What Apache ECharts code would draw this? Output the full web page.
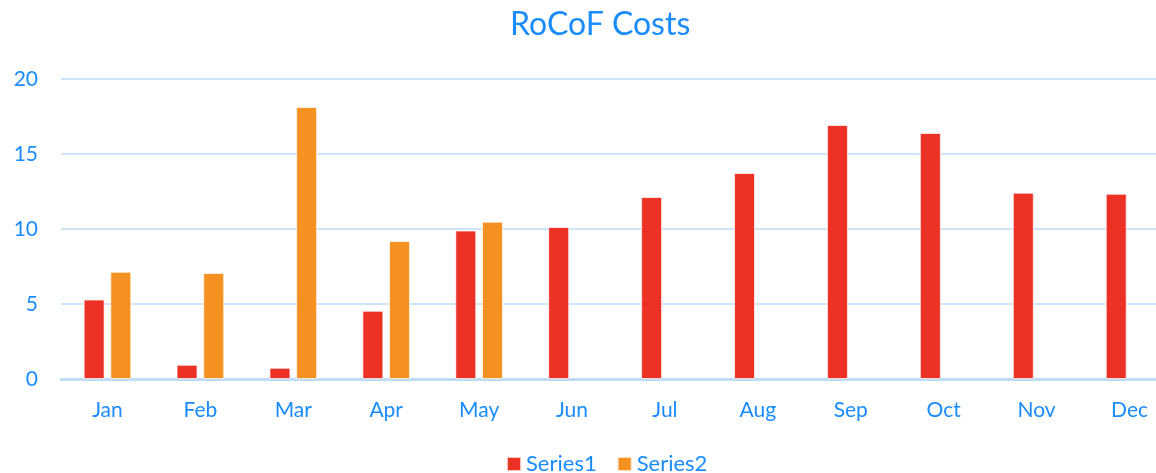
<!DOCTYPE html>
<html>
<head>
<meta charset="utf-8">
<script src="https://cdn.jsdelivr.net/npm/echarts@6/dist/echarts.min.js"></script>
<style>
  html, body { margin: 0; padding: 0; background: #ffffff; overflow: hidden; }
  #chart { width: 1180px; height: 473px; }
</style>
</head>
<body>
<div id="chart"></div>
<script>
// Monthly RoCoF costs
const months = ['Jan', 'Feb', 'Mar', 'Apr', 'May', 'Jun', 'Jul', 'Aug', 'Sep', 'Oct', 'Nov', 'Dec'];
const series1 = [5.3, 0.95, 0.75, 4.55, 9.9, 10.13, 12.13, 13.73, 16.93, 16.4, 12.42, 12.35];
const series2 = [7.15, 7.07, 18.13, 9.2, 10.49, null, null, null, null, null, null, null];
const seriesNames = ['Series1', 'Series2'];

const textBlue = '#1a8cff';
const font = 'Lato, "Open Sans", sans-serif';

const chart = echarts.init(document.getElementById('chart'));
chart.setOption({
  animation: false,
  backgroundColor: '#ffffff',
  title: {
    text: 'RoCoF Costs',
    left: 510,
    top: 9,
    padding: 0,
    textStyle: { color: textBlue, fontSize: 32, fontWeight: 'normal', fontFamily: font }
  },
  legend: {
    data: seriesNames,
    top: 453,
    left: 506,
    padding: 0,
    itemWidth: 14,
    itemHeight: 14,
    itemGap: 20,
    icon: 'rect',
    textStyle: { color: textBlue, fontSize: 22, fontFamily: font }
  },
  grid: { left: 61, top: 79, width: 1115, height: 300, containLabel: false },
  xAxis: {
    type: 'category',
    data: months,
    axisLine: { lineStyle: { color: '#bfdcf6', width: 3 } },
    axisTick: { show: false },
    axisLabel: { color: textBlue, fontSize: 21, fontFamily: font, margin: 21 }
  },
  yAxis: {
    type: 'value',
    min: 0,
    max: 20,
    interval: 5,
    axisLine: { show: false },
    axisTick: { show: false },
    axisLabel: { color: textBlue, fontSize: 21, fontFamily: font, margin: 23 },
    splitLine: { lineStyle: { color: '#cde4f9', width: 2 } }
  },
  series: [
    {
      name: seriesNames[0],
      type: 'bar',
      data: series1,
      barWidth: 21,
      barGap: '27%',
      itemStyle: { color: '#ec3125', borderColor: 'rgba(255,255,255,0.7)', borderWidth: 1 }
    },
    {
      name: seriesNames[1],
      type: 'bar',
      data: series2,
      barWidth: 21,
      barGap: '27%',
      itemStyle: { color: '#f49121', borderColor: 'rgba(255,255,255,0.7)', borderWidth: 1 }
    }
  ]
});
</script>
</body>
</html>
